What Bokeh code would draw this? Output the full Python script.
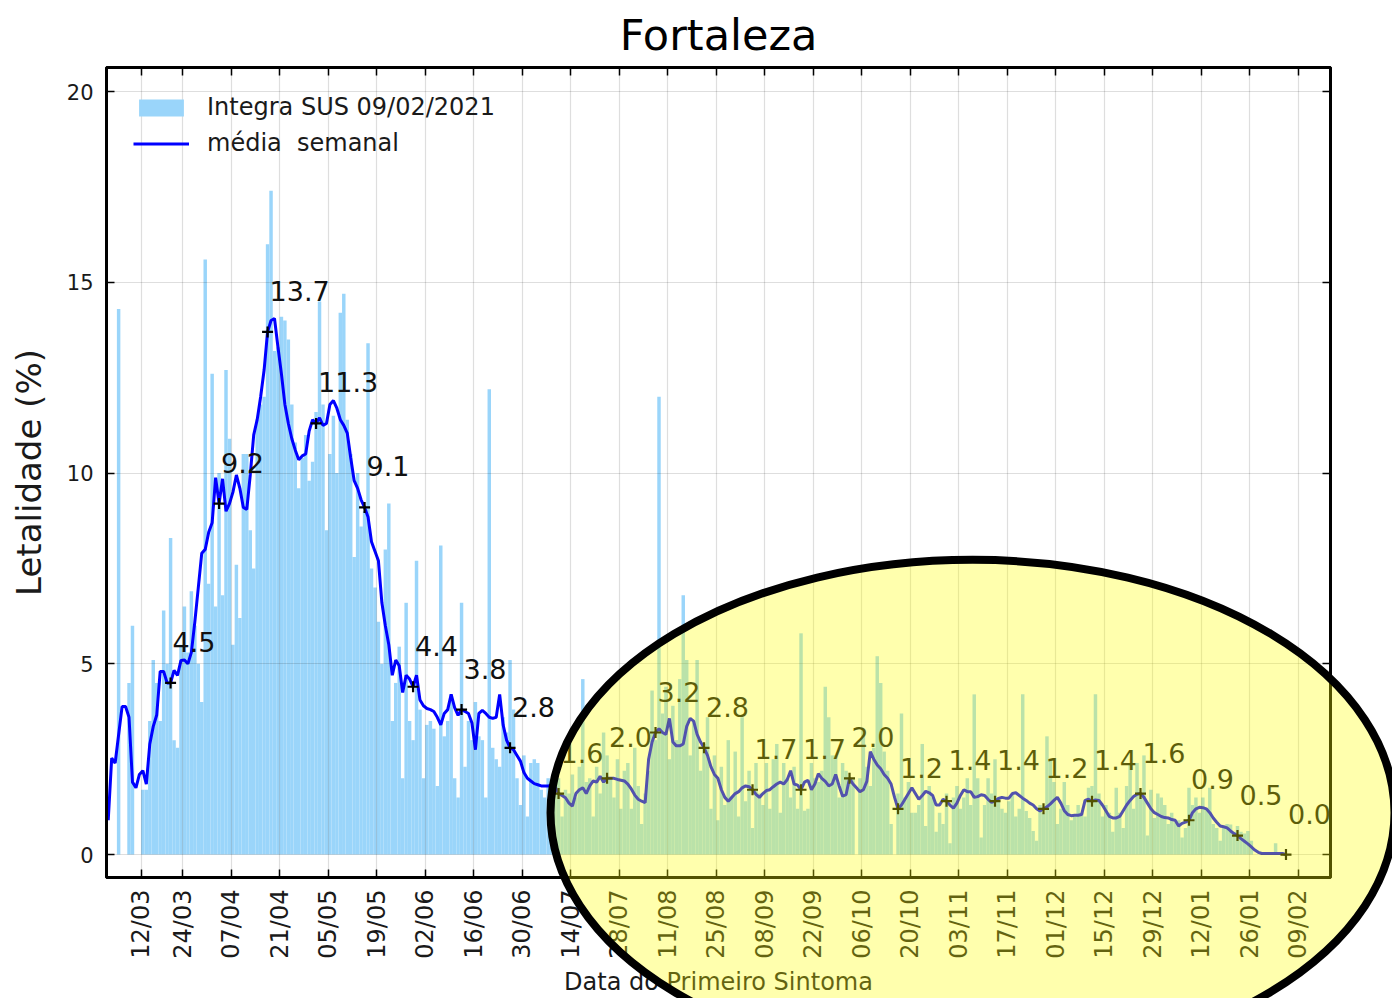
import math
import pandas as pd
from bokeh.plotting import figure
from bokeh.models import (Range1d, FixedTicker, DatetimeTickFormatter, DatetimeAxis, LinearAxis,
                          CustomJSTickFormatter, Legend, LegendItem, ColumnDataSource)
from bokeh.core.properties import value
from bokeh.embed import file_html
from bokeh.resources import INLINE

# ---------------- data ----------------
start_date = "2020-03-02"

daily_lethality = [
    0, 0, 0, 14.3, 0, 0, 4.5, 6.0, 0, 0,
    1.7, 1.7, 3.5, 5.1, 4.5, 3.5, 6.4, 5.0, 8.3, 3.0,
    2.8, 5.5, 6.5, 5.3, 6.9, 6.0, 5.0, 4.0, 15.6, 7.1,
    12.6, 6.5, 10.0, 6.8, 12.7, 10.9, 5.5, 7.6, 6.2, 10.5,
    10.5, 8.5, 7.5, 11.4, 11.8, 12.0, 16.0, 17.4, 13.2, 13.3,
    14.1, 14.0, 13.5, 11.8, 10.8, 9.6, 10.4, 11.0, 9.8, 10.3,
    11.6, 14.5, 11.8, 8.5, 10.5, 11.5, 10.0, 14.2, 14.7, 11.4,
    10.5, 7.8, 10.0, 8.6, 9.0, 13.4, 7.5, 7.0, 6.1, 5.0,
    8.0, 9.2, 3.5, 4.5, 5.45, 2.0, 6.6, 3.5, 3.0, 7.7,
    3.8, 2.0, 3.4, 3.5, 3.3, 1.8, 8.1, 3.1, 3.5, 4.2,
    2.0, 1.5, 6.6, 2.3, 3.5, 3.0, 4.0, 3.1, 3.0, 1.5,
    12.2, 2.8, 2.5, 2.3, 3.6, 3.2, 5.1, 3.8, 2.0, 1.3,
    2.6, 1.0, 2.4, 2.5, 2.4, 1.7, 1.5, 2.0, 1.1, 2.0,
    2.0, 1.0, 1.7, 1.6, 2.1, 1.5, 2.3, 4.6, 1.9, 2.0,
    1.0, 2.3, 1.6, 3.2, 2.6, 2.0, 1.5, 2.5, 1.2, 2.2,
    2.4, 1.2, 2.8, 1.8, 0.8, 1.6, 2.2, 4.3, 3.0, 12.0,
    3.7, 4.4, 2.5, 3.9, 3.0, 4.6, 6.8, 5.1, 2.6, 3.5,
    5.1, 2.2, 2.9, 3.6, 1.2, 2.6, 0.9, 2.3, 1.3, 3.0,
    1.5, 2.7, 1.0, 3.6, 1.4, 2.2, 0.7, 2.4, 1.6, 1.3,
    2.4, 1.2, 2.5, 2.9, 1.1, 2.4, 2.0, 1.5, 2.3, 1.2,
    5.8, 1.15, 1.2, 2.4, 2.0, 1.9, 2.2, 4.4, 3.6, 2.6,
    2.6, 1.5, 2.4, 2.2, 1.9, 2.0, 0, 2.0, 3.3, 2.3,
    1.8, 2.8, 5.2, 4.5, 2.7, 2.2, 0.8, 0, 1.6, 3.7,
    1.5, 1.9, 1.1, 1.1, 1.3, 2.9, 0.75, 1.8, 1.5, 0.6,
    1.1, 0.8, 1.6, 0.3, 1.5, 1.8, 1.2, 1.5, 2.0, 1.3,
    4.2, 2.0, 0.45, 1.3, 2.0, 1.6, 2.5, 1.5, 1.2, 1.1,
    1.4, 1.6, 1.0, 1.2, 4.2, 1.14, 0.96, 0.62, 0.36, 1.3,
    1.1, 3.1, 2.5, 1.9, 0.8, 1.2, 1.9, 1.3, 0.9, 1.0,
    1.3, 1.1, 1.0, 1.75, 1.8, 4.2, 1.6, 1.0, 1.3, 1.1,
    0.6, 1.75, 1.1, 0.7, 1.8, 2.4, 1.2, 2.4, 1.5, 2.6,
    0.5, 1.7, 0.96, 1.6, 1.5, 1.3, 0.8, 1.1, 0.85, 0.9,
    0.45, 0.7, 1.75, 1.3, 1.5, 1.1, 1.5, 1.2, 1.75, 0.8,
    0.7, 0.36, 0.7, 0.8, 0.79, 0.6, 0.75, 0.6, 0.55, 0.62,
    0.36, 0, 0, 0, 0, 0, 0, 0.3, 0, 0,
    0,
]

weekly_mean = [
    0.9, 2.53, 2.4, 3.14, 3.88, 3.88, 3.6, 1.9, 1.75, 2.1,
    2.2, 1.85, 2.9, 3.36, 3.66, 4.8, 4.8, 4.5, 4.5, 4.83,
    4.7, 5.09, 5.1, 5.0, 5.3, 6.1, 7.0, 7.9, 8.0, 8.45,
    8.7, 9.88, 9.2, 9.85, 9.0, 9.2, 9.5, 9.95, 9.6, 9.1,
    9.05, 9.95, 11.0, 11.4, 12.0, 12.7, 13.7, 14.0, 14.05, 13.3,
    12.6, 11.8, 11.3, 10.9, 10.6, 10.35, 10.45, 10.5, 11.1, 11.4,
    11.3, 11.45, 11.25, 11.3, 11.8, 11.9, 11.7, 11.4, 11.25, 11.05,
    10.4, 9.8, 9.6, 9.3, 9.1, 8.85, 8.2, 7.95, 7.7, 6.6,
    6.0, 5.5, 4.7, 5.1, 4.95, 4.25, 4.7, 4.6, 4.4, 4.7,
    4.05, 3.9, 3.83, 3.8, 3.75, 3.6, 3.4, 3.7, 3.8, 4.2,
    3.85, 3.65, 3.8, 3.75, 3.7, 3.45, 2.75, 3.7, 3.78, 3.7,
    3.6, 3.57, 3.6, 4.2, 3.4, 3.0, 2.8, 2.75, 2.6, 2.45,
    2.15, 2.0, 1.93, 1.86, 1.83, 1.8, 1.8, 1.8, 1.82, 1.78,
    1.6, 1.55, 1.49, 1.35, 1.27, 1.6, 1.7, 1.75, 1.6, 1.8,
    1.93, 1.9, 2.05, 1.9, 2.0, 2.0, 2.0, 1.97, 1.95, 1.93,
    1.85, 1.72, 1.56, 1.45, 1.4, 1.36, 2.5, 2.95, 3.2, 3.3,
    3.2, 3.15, 3.57, 2.95, 2.85, 2.85, 2.9, 3.36, 3.57, 3.5,
    3.15, 2.95, 2.8, 2.6, 2.3, 2.1, 2.0, 1.7, 1.5, 1.4,
    1.5, 1.6, 1.65, 1.75, 1.8, 1.78, 1.7, 1.58, 1.5, 1.6,
    1.68, 1.7, 1.78, 1.85, 1.9, 1.85, 1.96, 2.2, 1.85, 1.82,
    1.7, 1.9, 1.95, 1.7, 1.85, 2.12, 2.0, 1.92, 1.8, 1.85,
    2.1, 1.8, 1.53, 1.57, 2.0, 1.85, 1.75, 1.65, 1.7, 1.92,
    2.7, 2.5, 2.35, 2.25, 2.1, 2.0, 1.85, 1.5, 1.2, 1.3,
    1.45, 1.6, 1.75, 1.6, 1.45, 1.55, 1.66, 1.62, 1.55, 1.3,
    1.3, 1.45, 1.4, 1.3, 1.22, 1.35, 1.55, 1.7, 1.65, 1.65,
    1.5, 1.52, 1.57, 1.55, 1.45, 1.37, 1.4, 1.47, 1.5, 1.48,
    1.48, 1.6, 1.62, 1.55, 1.48, 1.42, 1.35, 1.3, 1.2, 1.14,
    1.2, 1.25, 1.33, 1.42, 1.5, 1.35, 1.15, 1.05, 1.02, 1.03,
    1.03, 1.05, 1.42, 1.45, 1.4, 1.43, 1.42, 1.3, 1.15, 1.0,
    0.96, 0.96, 1.0, 1.15, 1.3, 1.42, 1.52, 1.58, 1.6, 1.5,
    1.35, 1.2, 1.1, 1.05, 1.0, 0.97, 0.96, 0.92, 0.9, 0.75,
    0.82, 0.85, 0.9, 1.1, 1.2, 1.24, 1.23, 1.2, 1.1, 0.96,
    0.85, 0.75, 0.73, 0.7, 0.62, 0.55, 0.5, 0.42, 0.35, 0.28,
    0.2, 0.12, 0.06, 0.03, 0.03, 0.03, 0.03, 0.03, 0.03, 0.03,
    0.0,
]

annot_dates = [
    "2020-03-20", "2020-04-03", "2020-04-17", "2020-05-01", "2020-05-15", "2020-05-29",
    "2020-06-12", "2020-06-26", "2020-07-10", "2020-07-24", "2020-08-07", "2020-08-21",
    "2020-09-04", "2020-09-18", "2020-10-02", "2020-10-16", "2020-10-30", "2020-11-13",
    "2020-11-27", "2020-12-11", "2020-12-25", "2021-01-08", "2021-01-22", "2021-02-05",
]
annot_values = [4.5, 9.2, 13.7, 11.3, 9.1, 4.4, 3.8, 2.8, 1.6, 2.0, 3.2, 2.8,
                1.7, 1.7, 2.0, 1.2, 1.4, 1.4, 1.2, 1.4, 1.6, 0.9, 0.5, 0.0]

tick_dates = [
    "2020-03-12", "2020-03-24", "2020-04-07", "2020-04-21", "2020-05-05", "2020-05-19",
    "2020-06-02", "2020-06-16", "2020-06-30", "2020-07-14", "2020-07-28", "2020-08-11",
    "2020-08-25", "2020-09-08", "2020-09-22", "2020-10-06", "2020-10-20", "2020-11-03",
    "2020-11-17", "2020-12-01", "2020-12-15", "2020-12-29", "2021-01-12", "2021-01-26",
    "2021-02-09",
]
y_ticks = [0, 5, 10, 15, 20]

title_text = "Fortaleza"
bar_label = "Integra SUS 09/02/2021"
line_label = "média  semanal"
x_label = "Data do Primeiro Sintoma"
y_label = "Letalidade (%)"

# ---------------- helpers ----------------
FONT = "DejaVu Sans"
DAY_MS = 86400000.0
EPOCH = pd.Timestamp("1970-01-01")


def to_ms(ts):
    return (pd.Timestamp(ts) - EPOCH) / pd.Timedelta(milliseconds=1)


half_day = pd.Timedelta(hours=12)
bar_dates = pd.date_range(start_date, periods=len(daily_lethality), freq="D") + half_day
line_dates = pd.date_range(start_date, periods=len(weekly_mean), freq="D") + half_day
annot_x = pd.to_datetime(annot_dates) + half_day
tick_ms = [to_ms(t) for t in tick_dates]

x0 = to_ms(start_date)
x1 = x0 + 353.35 * DAY_MS

W, H = 1392, 998
# frame position in canvas pixels
FL, FR, FT, FB = 106, 1330, 66, 880

p = figure(width=W, height=H, title=title_text, x_axis_type="datetime",
           x_range=Range1d(x0, x1), y_range=Range1d(-0.6, 20.63),
           toolbar_location=None, output_backend="svg",
           min_border_left=FL, min_border_right=W - FR,
           min_border_top=FT, min_border_bottom=H - FB)
p.background_fill_color = "white"
p.border_fill_color = "white"
p.outline_line_color = "black"
p.outline_line_width = 3
p.outline_line_alpha = 1.0

p.title.text_font = FONT
p.title.text_font_size = "43px"
p.title.text_font_style = "normal"
p.title.text_color = "black"
p.title.align = "center"
p.title.standoff = 15

bar_src = ColumnDataSource(dict(x=bar_dates, top=daily_lethality))
bars = p.vbar(x="x", top="top", width=DAY_MS, source=bar_src,
              fill_color="#9ad5fa", line_color=None)

line_src = ColumnDataSource(dict(x=line_dates, y=weekly_mean))
ln = p.line(x="x", y="y", source=line_src, line_color="#0000ff", line_width=3)

ann_src = ColumnDataSource(dict(x=annot_x, y=annot_values,
                                t=[f"{v:.1f}" for v in annot_values]))
p.scatter(x="x", y="y", source=ann_src, marker="cross", size=11,
          line_color="black", line_width=2.2)
p.text(x="x", y="y", text="t", source=ann_src, x_offset=2, y_offset=-41,
       text_font=value(FONT), text_font_size=value("27px"), text_color="#111111",
       text_baseline="alphabetic", text_align="left")


def style_axis(ax):
    ax.major_tick_in = 8
    ax.major_tick_out = 0
    ax.minor_tick_in = 0
    ax.minor_tick_out = 0
    ax.major_tick_line_color = "black"
    ax.major_tick_line_width = 1.5
    ax.axis_line_color = "black"
    ax.axis_line_width = 3
    ax.major_label_text_font = FONT
    ax.major_label_text_font_size = "21px"
    ax.major_label_text_color = "#1a1a1a"
    ax.axis_label_text_font = FONT
    ax.axis_label_text_font_style = "normal"
    ax.axis_label_text_color = "#1a1a1a"


fmt = "%d/%m"
xa = p.xaxis[0]
xa.ticker = FixedTicker(ticks=tick_ms)
xa.formatter = DatetimeTickFormatter(microseconds=fmt, milliseconds=fmt, seconds=fmt,
                                     minsec=fmt, minutes=fmt, hourmin=fmt, hours=fmt,
                                     days=fmt, months=fmt, years=fmt)
style_axis(xa)
xa.major_label_text_font_size = "24px"
xa.major_label_orientation = math.pi / 2
xa.major_label_standoff = 12
xa.axis_label = x_label
xa.axis_label_text_font_size = "24px"
xa.axis_label_standoff = 6

ya = p.yaxis[0]
ya.ticker = FixedTicker(ticks=y_ticks)
style_axis(ya)
ya.major_label_standoff = 13
ya.axis_label = y_label
ya.axis_label_text_font_size = "34px"
ya.axis_label_standoff = 15

top_ax = DatetimeAxis(ticker=FixedTicker(ticks=tick_ms),
                      formatter=CustomJSTickFormatter(code="return ''"))
style_axis(top_ax)
top_ax.major_label_standoff = 0
p.add_layout(top_ax, "above")

right_ax = LinearAxis(ticker=FixedTicker(ticks=y_ticks),
                      formatter=CustomJSTickFormatter(code="return ''"))
style_axis(right_ax)
right_ax.major_label_standoff = 0
p.add_layout(right_ax, "right")

p.xgrid.ticker = FixedTicker(ticks=tick_ms)
p.ygrid.ticker = FixedTicker(ticks=y_ticks)
p.grid.grid_line_color = "black"
p.grid.grid_line_alpha = 0.13
p.grid.grid_line_width = 1.2
p.grid.level = "guide"

legend = Legend(items=[LegendItem(label=bar_label, renderers=[bars]),
                       LegendItem(label=line_label, renderers=[ln])],
                location=(27, 718), padding=0, margin=0, spacing=4,
                label_height=32, glyph_height=21, glyph_width=56, label_standoff=18,
                label_text_font=FONT, label_text_font_size="24px",
                label_text_color="#1a1a1a",
                background_fill_alpha=0, border_line_alpha=0)
p.add_layout(legend)

# ---------------- highlight ellipse (canvas-pixel coordinates, drawn on top) ----------------
p.extra_x_ranges = {"px": Range1d(FL, FR)}
p.extra_y_ranges = {"py": Range1d(FB, FT)}
p.ellipse(x=[972], y=[815], width=[844], height=[506],
          width_units="screen", height_units="screen",
          x_range_name="px", y_range_name="py",
          fill_color="#ffff00", fill_alpha=0.32, line_color="black", line_width=8,
          level="overlay")

with open("out.html", "w") as f:
    f.write(file_html(p, INLINE))
